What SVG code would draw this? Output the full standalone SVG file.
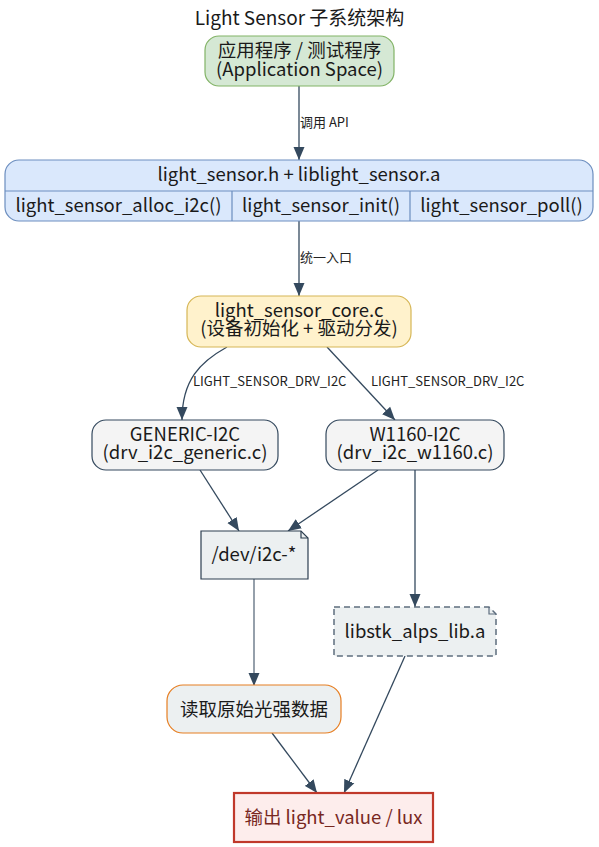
<svg xmlns="http://www.w3.org/2000/svg" width="599" height="847" viewBox="0 0 599 847">
<defs>
<style>
text{font-family:"Noto Sans CJK SC","Noto Sans",sans-serif;fill:#1a1a1a;}
.t{font-size:19px;text-anchor:middle;}
.n{font-size:18.5px;text-anchor:middle;}
.l{font-size:13px;fill:#222;}
.e{fill:none;stroke:#34495e;stroke-width:1.3;marker-end:url(#ah);}
</style>
<marker id="ah" markerUnits="userSpaceOnUse" markerWidth="14" markerHeight="12" viewBox="0 0 14 12" refX="13" refY="6" orient="auto">
<path d="M0,0.5 L13,6 L0,11.5 z" fill="#34495e"/>
</marker>
</defs>
<rect width="599" height="847" fill="#ffffff"/>
<text class="t" x="299.5" y="25">Light Sensor 子系统架构</text>

<g id="connectors">
<path class="e" d="M299,86 L299,160"/>
<text class="l" x="300" y="127">调用 API</text>
<path class="e" d="M299,221 L299,296"/>
<text class="l" x="300" y="262">统一入口</text>
<path class="e" d="M227,347 C200,362 182,380 182,420"/>
<text class="l" x="193" y="386">LIGHT_SENSOR_DRV_I2C</text>
<path class="e" d="M327,347 L395,420"/>
<text class="l" x="371" y="386">LIGHT_SENSOR_DRV_I2C</text>
<path class="e" d="M200,470 L239,531"/>
<path class="e" d="M378,470 L288,531"/>
<path class="e" d="M415,470 L415,607"/>
<path class="e" d="M254,579 L254,686" style="stroke:#5d6d7e"/>
<path class="e" d="M272,733 L317,793"/>
<path class="e" d="M405,656 L344,793"/>
</g>

<g id="app">
<rect x="205" y="36" width="189" height="50" rx="14" fill="#d5e8d4" stroke="#82b366" stroke-width="1.2"/>
<text class="n" x="299.5" y="57">应用程序 / 测试程序</text>
<text class="n" x="299.5" y="75.5">(Application Space)</text>
</g>

<g id="api">
<rect x="5" y="160" width="588" height="61" rx="14" fill="#dae8fc" stroke="#6c8ebf" stroke-width="1.2"/>
<path d="M5,191 L593,191 M232,191 L232,221 M410,191 L410,221" stroke="#6c8ebf" stroke-width="1.2" fill="none"/>
<text class="n" x="299" y="181">light_sensor.h + liblight_sensor.a</text>
<text class="n" x="118.5" y="212">light_sensor_alloc_i2c()</text>
<text class="n" x="321" y="212">light_sensor_init()</text>
<text class="n" x="501.5" y="212">light_sensor_poll()</text>
</g>

<g id="core">
<rect x="187" y="296" width="224" height="51" rx="14" fill="#fff2cc" stroke="#d6b656" stroke-width="1.2"/>
<text class="n" x="299" y="316.5">light_sensor_core.c</text>
<text class="n" x="299" y="335">(设备初始化 + 驱动分发)</text>
</g>

<g id="generic">
<rect x="92" y="420" width="186" height="50" rx="14" fill="#f4f4f4" stroke="#34495e" stroke-width="1.2"/>
<text class="n" x="185" y="440.5">GENERIC-I2C</text>
<text class="n" x="185" y="459">(drv_i2c_generic.c)</text>
</g>

<g id="w1160">
<rect x="326" y="420" width="178" height="50" rx="14" fill="#f4f4f4" stroke="#34495e" stroke-width="1.2"/>
<text class="n" x="415" y="440.5">W1160-I2C</text>
<text class="n" x="415" y="459">(drv_i2c_w1160.c)</text>
</g>

<g id="dev">
<path d="M201,531 L301,531 L308,538 L308,579 L201,579 Z" fill="#ecf0f1" stroke="#2c3e50" stroke-width="1.2"/>
<path d="M301,531 L301,538 L308,538" fill="none" stroke="#2c3e50" stroke-width="1.2"/>
<text class="n" x="254" y="561">/dev/i2c-*</text>
</g>

<g id="libstk">
<path d="M334,607 L489,607 L496,614 L496,656 L334,656 Z" fill="#ecf0f1" stroke="#5d6d7e" stroke-width="1.5" stroke-dasharray="6,4"/>
<path d="M489,607 L489,614 L496,614" fill="none" stroke="#5d6d7e" stroke-width="1.2"/>
<text class="n" x="415" y="638">libstk_alps_lib.a</text>
</g>

<g id="read">
<rect x="167" y="685" width="174" height="48" rx="16" fill="#ecf0f1" stroke="#e67e22" stroke-width="1.2"/>
<text class="n" x="254" y="716">读取原始光强数据</text>
</g>

<g id="output">
<rect x="234" y="793" width="199" height="49" fill="#fdedec" stroke="#c0392b" stroke-width="2.2"/>
<text class="n" x="333.5" y="824" style="fill:#78281f">输出 light_value / lux</text>
</g>
</svg>
